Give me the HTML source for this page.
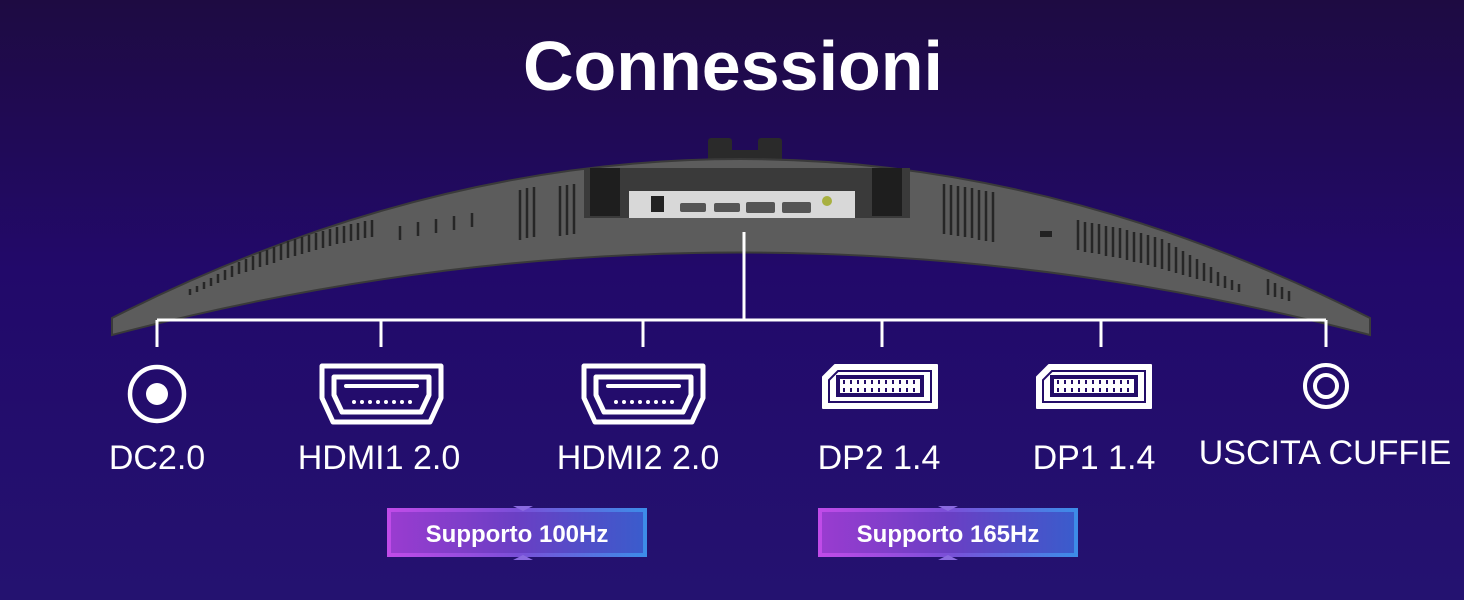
<!DOCTYPE html>
<html><head><meta charset="utf-8"><style>
html,body{margin:0;padding:0}
body{width:1464px;height:600px;overflow:hidden;background:linear-gradient(180deg,#1e0b42 0%,#22096a 45%,#241270 100%);font-family:"Liberation Sans",sans-serif}
svg{display:block}
</style></head><body>
<svg width="1464" height="600" viewBox="0 0 1464 600" xmlns="http://www.w3.org/2000/svg">
<defs>
<linearGradient id="bd" x1="0" x2="1"><stop offset="0" stop-color="#c04be8"/><stop offset="0.5" stop-color="#7a4fd8"/><stop offset="1" stop-color="#3d8ce8"/></linearGradient>
<linearGradient id="bf" x1="0" x2="1"><stop offset="0" stop-color="#9a3cd0"/><stop offset="0.5" stop-color="#6a3fc4"/><stop offset="1" stop-color="#3a5ccc"/></linearGradient>
</defs>
<text x="733" y="90" text-anchor="middle" fill="#fff" font-size="70" font-weight="bold" font-family="Liberation Sans, sans-serif">Connessioni</text>
<rect x="708" y="138" width="24" height="25" fill="#2a2a2a" rx="3"/>
<rect x="758" y="138" width="24" height="25" fill="#2a2a2a" rx="3"/>
<rect x="732" y="150" width="26" height="12" fill="#2a2a2a"/>
<path d="M112,318 Q740,0 1370,318 L1370,335 Q740,170 112,335 Z" fill="#5c5c5c" stroke="#3a3a3a" stroke-width="2"/>
<rect x="584" y="168" width="326" height="50" fill="#3a3a3a"/>
<rect x="590" y="168" width="30" height="48" fill="#1e1e1e"/>
<rect x="872" y="168" width="30" height="48" fill="#1e1e1e"/>
<rect x="629" y="191" width="226" height="27" fill="#d8d8d8"/>
<rect x="651" y="196" width="13" height="16" fill="#222"/>
<rect x="680" y="203" width="26" height="9" rx="2" fill="#555"/>
<rect x="714" y="203" width="26" height="9" rx="2" fill="#555"/>
<rect x="746" y="202" width="29" height="11" rx="2" fill="#555"/>
<rect x="782" y="202" width="29" height="11" rx="2" fill="#555"/>
<circle cx="827" cy="201" r="5" fill="#a8b040"/>
<g stroke="#262626" stroke-width="2.5">
<path d="M190,295v-6M197,292v-6M204,289v-7M211,286v-8M218,283v-9M225,280v-10M232,277v-11M239,274v-12M246,272v-13M253,270v-14M260,267v-15M267,265v-15M274,263v-16M281,260v-16M288,258v-17M295,256v-17M302,254v-17M309,252v-17M316,250v-17M323,248v-17M330,246v-17M337,244v-17M344,243v-17M351,241v-17M358,240v-17M365,238v-17M372,237v-17"/>
<path d="M520,240v-50M527,238v-50M534,237v-50M560,236v-50M567,235v-50M574,234v-50M944,234v-50M951,235v-50M958,236v-50M965,237v-50M972,238v-50M979,240v-50M986,241v-50M993,242v-50"/>
<path d="M1078,250v-30M1085,252v-30M1092,253v-30M1099,254v-30M1106,256v-30M1113,257v-30M1120,258v-30M1127,260v-30M1134,262v-30M1141,263v-30M1148,265v-30M1155,267v-30M1162,269v-30M1169,271v-28M1176,273v-26M1183,275v-24M1190,277v-22M1197,279v-20M1204,281v-18M1211,283v-16M1218,286v-14M1225,288v-12M1232,290v-10M1239,292v-8M1268,295v-16M1275,297v-14M1282,299v-12M1289,301v-10"/>
<path d="M400,240v-14M418,236v-14M436,233v-14M454,230v-14M472,227v-14"/>
</g>
<rect x="1040" y="231" width="12" height="6" fill="#222"/>
<g stroke="#fff" stroke-width="3" fill="none">
<path d="M744,232V320M157,320H1326M157,320v27M381,320v27M643,320v27M882,320v27M1101,320v27M1326,320v27"/>
</g>
<circle cx="157" cy="394" r="27" fill="none" stroke="#fff" stroke-width="4.5"/>
<circle cx="157" cy="394" r="11" fill="#fff"/>
<g fill="none" stroke="#fff">
<path d="M322,366H441V398L430,422H333L322,398Z" stroke-width="5" stroke-linejoin="round"/>
<path d="M334,377H429V395L421,412H342L334,395Z" stroke-width="5" stroke-linejoin="round"/>
<path d="M584,366H703V398L692,422H595L584,398Z" stroke-width="5" stroke-linejoin="round"/>
<path d="M596,377H691V395L683,412H604L596,395Z" stroke-width="5" stroke-linejoin="round"/>
<circle cx="1326" cy="386" r="21" stroke-width="4"/>
<circle cx="1326" cy="386" r="11" stroke-width="4"/>
</g>
<g fill="#fff">
<rect x="344" y="384" width="75" height="4" rx="2"/><rect x="606" y="384" width="75" height="4" rx="2"/>
</g>
<g fill="#fff"><circle cx="354" cy="402" r="2"/><circle cx="362" cy="402" r="2"/><circle cx="370" cy="402" r="2"/><circle cx="378" cy="402" r="2"/><circle cx="386" cy="402" r="2"/><circle cx="394" cy="402" r="2"/><circle cx="402" cy="402" r="2"/><circle cx="410" cy="402" r="2"/>
<circle cx="616" cy="402" r="2"/><circle cx="624" cy="402" r="2"/><circle cx="632" cy="402" r="2"/><circle cx="640" cy="402" r="2"/><circle cx="648" cy="402" r="2"/><circle cx="656" cy="402" r="2"/><circle cx="664" cy="402" r="2"/><circle cx="672" cy="402" r="2"/></g>
<g>
<path d="M835,365H937V408H823V377Z" fill="#fff" stroke="#fff" stroke-width="2" stroke-linejoin="round"/>
<path d="M838,371H931V402H829V380Z" fill="none" stroke="#230c68" stroke-width="2"/>
<rect x="838" y="377" width="84" height="18" fill="none" stroke="#230c68" stroke-width="4"/>
<path d="M844,380v4M851,380v4M858,380v4M865,380v4M872,380v4M879,380v4M886,380v4M893,380v4M900,380v4M907,380v4M914,380v4M844,388v4M851,388v4M858,388v4M865,388v4M872,388v4M879,388v4M886,388v4M893,388v4M900,388v4M907,388v4M914,388v4" stroke="#230c68" stroke-width="2"/>
<path d="M1049,365H1151V408H1037V377Z" fill="#fff" stroke="#fff" stroke-width="2" stroke-linejoin="round"/>
<path d="M1052,371H1145V402H1043V380Z" fill="none" stroke="#230c68" stroke-width="2"/>
<rect x="1052" y="377" width="84" height="18" fill="none" stroke="#230c68" stroke-width="4"/>
<path d="M1058,380v4M1065,380v4M1072,380v4M1079,380v4M1086,380v4M1093,380v4M1100,380v4M1107,380v4M1114,380v4M1121,380v4M1128,380v4M1058,388v4M1065,388v4M1072,388v4M1079,388v4M1086,388v4M1093,388v4M1100,388v4M1107,388v4M1114,388v4M1121,388v4M1128,388v4" stroke="#230c68" stroke-width="2"/>
</g>
<g fill="#fff" font-size="34" font-family="Liberation Sans, sans-serif" text-anchor="middle">
<text x="157" y="469">DC2.0</text>
<text x="379" y="469">HDMI1 2.0</text>
<text x="638" y="469">HDMI2 2.0</text>
<text x="879" y="469">DP2 1.4</text>
<text x="1094" y="469">DP1 1.4</text>
<text x="1325" y="464">USCITA CUFFIE</text>
</g>
<g>
<path d="M389,510H645V555H389Z" fill="url(#bf)" stroke="url(#bd)" stroke-width="4"/>
<path d="M513,506h20l-10,5z M513,560h20l-10,-5z" fill="#8a6ae0"/>
<text x="517" y="542" text-anchor="middle" fill="#fff" font-size="24" font-weight="bold" font-family="Liberation Sans, sans-serif">Supporto 100Hz</text>
<path d="M820,510H1076V555H820Z" fill="url(#bf)" stroke="url(#bd)" stroke-width="4"/>
<path d="M938,506h20l-10,5z M938,560h20l-10,-5z" fill="#8a6ae0"/>
<text x="948" y="542" text-anchor="middle" fill="#fff" font-size="24" font-weight="bold" font-family="Liberation Sans, sans-serif">Supporto 165Hz</text>
</g>
</svg>
</body></html>
